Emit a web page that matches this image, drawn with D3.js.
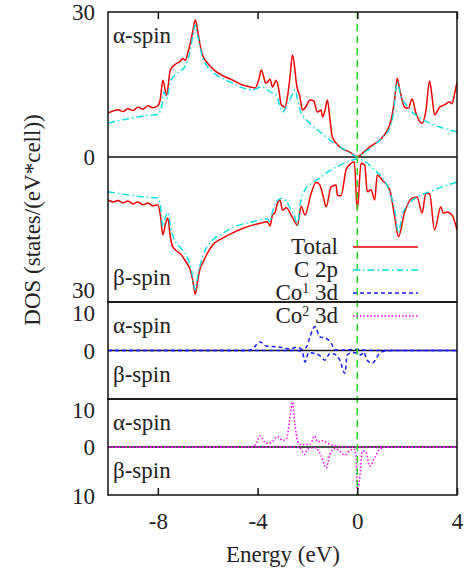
<!DOCTYPE html>
<html>
<head>
<meta charset="utf-8">
<script src="https://cdn.jsdelivr.net/npm/d3@7"></script>
<style>
   body { margin: 0; background: #fff; }
</style>
</head>
<body>
<svg id="chart" width="468" height="570" font-family="Liberation Serif"></svg>
<script>
// DOS data: [energy (eV), states/(eV*cell)]
var total_alpha = [[-10,9.1],[-9.8,9.5],[-9.6,9.8],[-9.4,9.4],[-9.2,10.0],[-9.0,9.6],[-8.8,10.3],[-8.6,9.9],[-8.4,10.6],[-8.2,10.2],[-8.0,10.6],[-7.9,12],[-7.8,15.9],[-7.65,12.8],[-7.5,18.0],[-7.3,19.2],[-7.1,19.8],[-7.0,20.4],[-6.9,20.0],[-6.8,21.5],[-6.7,23.5],[-6.6,26.0],[-6.5,28.4],[-6.4,26],[-6.3,23],[-6.2,21],[-6.05,19.7],[-5.85,18.5],[-5.65,17.6],[-5.3,16.6],[-5.0,15.9],[-4.6,14.9],[-4.3,14.5],[-4.1,14.3],[-3.95,16.0],[-3.85,18.0],[-3.75,16.5],[-3.68,15.3],[-3.6,15.5],[-3.5,16.1],[-3.4,14.5],[-3.3,15.5],[-3.25,15.9],[-3.15,14],[-3.05,10.8],[-2.9,10.3],[-2.8,12.5],[-2.7,16.5],[-2.6,21.1],[-2.5,18.0],[-2.45,15.5],[-2.3,12.4],[-2.2,9.7],[-2.05,10.5],[-1.9,11.8],[-1.75,11.6],[-1.6,9.3],[-1.45,9.7],[-1.4,8.3],[-1.3,9.5],[-1.2,11.8],[-1.1,8.0],[-1.0,4.1],[-0.7,2.1],[-0.3,1.0],[0,0.1],[0.3,1.2],[0.5,2.1],[0.9,3.5],[1.2,5.5],[1.35,7.5],[1.5,12],[1.6,16.3],[1.7,14],[1.9,10.3],[2.05,10.1],[2.2,12.0],[2.35,9.1],[2.6,7.0],[2.75,9.5],[2.9,15.7],[3.0,12.5],[3.1,8.7],[3.3,10.3],[3.5,10.8],[3.7,11.4],[3.8,11.0],[3.9,13],[4.0,15.5]];
var c2p_alpha = [[-10,7.0],[-9.6,7.5],[-9.2,7.9],[-8.8,8.3],[-8.4,8.6],[-8.0,8.8],[-7.85,10.5],[-7.75,13.5],[-7.65,12.0],[-7.5,15.5],[-7.3,17.0],[-7.1,17.8],[-6.9,18.8],[-6.7,22],[-6.6,25],[-6.5,27.3],[-6.4,25],[-6.2,20.5],[-6.05,19.0],[-5.65,17.0],[-5.0,15.3],[-4.6,14.3],[-4.2,13.9],[-3.85,14.5],[-3.5,13.5],[-3.25,12.8],[-3.1,10.5],[-3.0,9.3],[-2.8,11],[-2.6,13.0],[-2.5,13.9],[-2.4,12],[-2.3,9.7],[-1.9,7.0],[-1.5,5.2],[-1.1,3.5],[-0.7,2.1],[-0.3,0.9],[0,0],[0.3,1.0],[0.7,2.5],[1.0,4.0],[1.3,6.0],[1.45,9],[1.6,15.5],[1.75,12.5],[1.9,11.2],[2.2,9.3],[2.5,8.1],[2.9,7.0],[3.3,6.2],[3.7,5.6],[4.0,5.2]];
var total_beta = [[-10,-8.9],[-9.8,-9.3],[-9.6,-9.0],[-9.4,-9.5],[-9.2,-9.1],[-9.0,-9.7],[-8.8,-9.3],[-8.6,-9.9],[-8.4,-9.5],[-8.2,-10.1],[-8.0,-9.9],[-7.9,-12],[-7.8,-16.1],[-7.7,-14],[-7.6,-12.6],[-7.5,-16.5],[-7.4,-18.6],[-7.2,-19.6],[-7.05,-20.3],[-6.9,-21.5],[-6.7,-23.4],[-6.6,-25.5],[-6.5,-28.4],[-6.4,-25.5],[-6.3,-23],[-6.2,-21.9],[-6.0,-19.8],[-5.8,-18.2],[-5.4,-16.8],[-5.0,-15.7],[-4.6,-14.8],[-4.2,-14.1],[-3.9,-13.7],[-3.6,-13.4],[-3.5,-14.3],[-3.4,-12.0],[-3.3,-11.5],[-3.2,-9.5],[-3.1,-8.9],[-3.0,-11.0],[-2.85,-10.5],[-2.6,-12.5],[-2.4,-14.1],[-2.25,-10.2],[-2.1,-12.0],[-1.85,-7.5],[-1.65,-5.2],[-1.5,-5.8],[-1.35,-8.5],[-1.25,-10.3],[-1.05,-6.2],[-0.85,-5.8],[-0.8,-7.9],[-0.65,-8.0],[-0.45,-2.7],[-0.25,-1.3],[-0.12,-1.0],[0,-11.0],[0.15,-1.3],[0.3,-1.7],[0.4,-7.2],[0.55,-6.8],[0.7,-8.9],[0.8,-3.7],[1.0,-4.8],[1.3,-6.8],[1.5,-12.4],[1.65,-16.5],[1.9,-11.4],[2.2,-8.5],[2.4,-8.3],[2.6,-11.6],[2.75,-7.5],[2.9,-7.6],[3.1,-15.1],[3.35,-10.3],[3.45,-11.6],[3.6,-11.4],[3.8,-12.0],[4.0,-15.1]];
var c2p_beta = [[-10,-7.2],[-9.5,-7.6],[-9.0,-8.0],[-8.5,-8.3],[-8.0,-8.5],[-7.9,-10],[-7.8,-14.5],[-7.7,-12.5],[-7.6,-11.5],[-7.45,-15.5],[-7.3,-17.5],[-7.05,-19.0],[-6.8,-21],[-6.65,-23.5],[-6.5,-27.5],[-6.4,-24.5],[-6.2,-20.5],[-5.8,-17.2],[-5.4,-15.8],[-5.0,-14.6],[-4.2,-13.4],[-3.6,-12.8],[-3.5,-13.5],[-3.4,-11.3],[-3.2,-9.0],[-3.0,-8.5],[-2.7,-10.5],[-2.5,-12.5],[-2.4,-14.1],[-2.3,-10.0],[-2.1,-6.8],[-1.8,-5.3],[-1.5,-4.3],[-1.1,-2.8],[-0.7,-1.7],[-0.3,-0.8],[0,-0.4],[0.3,-0.9],[0.7,-2.7],[1.0,-4.3],[1.3,-7.2],[1.5,-11],[1.65,-15.7],[1.8,-12.0],[2.1,-9.5],[2.5,-8.0],[2.9,-7.2],[3.5,-6.0],[4.0,-5.2]];
var co1_alpha = [[-10,0],[-4.4,0],[-4.2,0.5],[-3.9,2.3],[-3.65,1.2],[-3.3,1.0],[-3.1,0.9],[-2.7,0.4],[-2.4,0.9],[-2.2,0.3],[-2.05,0.8],[-1.9,3.6],[-1.7,6.4],[-1.5,3.6],[-1.3,3.4],[-1.05,2.0],[-0.9,0.2],[-0.6,0.1],[0,0.3],[0.3,0.1],[1.0,0],[4,0]];
var co1_beta = [[-10,0],[-2.4,0],[-2.2,-0.5],[-2.1,-3.1],[-1.95,-0.6],[-1.7,-0.8],[-1.5,-1.4],[-1.3,-2.6],[-1.1,-0.8],[-0.9,-1.0],[-0.7,-2.6],[-0.5,-6.1],[-0.4,-1.2],[-0.2,-0.5],[0,-0.7],[0.15,-1.2],[0.25,-0.4],[0.4,-2.6],[0.6,-3.4],[0.9,-0.7],[1.1,-0.2],[1.5,0],[4,0]];
var co2_alpha = [[-10,0],[-4.2,0],[-4.05,1.0],[-3.9,3.0],[-3.65,1.0],[-3.45,1.2],[-3.2,2.8],[-3.0,1.8],[-2.85,2.1],[-2.7,7.9],[-2.6,12.2],[-2.5,6.2],[-2.4,1.7],[-2.25,0.6],[-1.9,0.7],[-1.7,3.0],[-1.6,1.4],[-1.4,1.7],[-1.1,0.7],[-0.8,0.2],[-0.5,0],[4,0]];
var co2_beta = [[-10,0],[-2.35,0],[-2.1,-2.0],[-2.0,-0.6],[-1.7,-0.2],[-1.45,-2.3],[-1.25,-5.7],[-1.1,-2.0],[-0.9,-0.4],[-0.7,-1.1],[-0.5,-2.2],[-0.3,-0.9],[-0.12,-0.6],[-0.05,-2.4],[0,-11.5],[0.1,-8.3],[0.2,-1.1],[0.35,-1.5],[0.5,-5.2],[0.7,-2.9],[0.9,-0.6],[1.1,-0.1],[1.5,0],[4,0]];

var x_ticks = [-8, -4, 0, 4];
var y_ticks_1 = [30, 0, -30];
var y_ticks_2 = [10, 0];
var y_ticks_3 = [10, 0, -10];
var legend_names = ["Total", "C 2p", "Co1 3d", "Co2 3d"];

var FONT = "Liberation Serif";
var svg = d3.select("#chart");
var x = d3.scaleLinear().domain([-10, 4]).range([108, 457]);

// three stacked panels, each with its own y scale
var panels = [
   { id: "p1", top: 12, bottom: 302, y: d3.scaleLinear().domain([-30, 30]).range([302, 12]), ticks: y_ticks_1, shift: [0, 0, -12] },
   { id: "p2", top: 302, bottom: 399, y: d3.scaleLinear().domain([-13, 13]).range([399, 302]), ticks: y_ticks_2, shift: [0, 0] },
   { id: "p3", top: 399, bottom: 495, y: d3.scaleLinear().domain([-13, 13]).range([495, 399]), ticks: y_ticks_3, shift: [0, 0, 12] }
];

var styles = {
   total: { stroke: "#f00000", width: 1.5, dash: null },
   c2p:   { stroke: "#00e0e0", width: 1.4, dash: "7,3,1.5,3" },
   co1:   { stroke: "#1a1aff", width: 1.5, dash: "4,3" },
   co2:   { stroke: "#ff00ff", width: 1.5, dash: "1.5,2" }
};

function add_text(px, py, str) {
   return svg.append("text").attr("x", px).attr("y", py)
      .attr("font-family", FONT).attr("font-size", 23).attr("fill", "#222")
      .text(str);
}

var defs = svg.append("defs");
panels.forEach(function(p) {
   defs.append("clipPath").attr("id", "clip_" + p.id)
      .append("rect").attr("x", x.range()[0]).attr("y", p.top)
      .attr("width", x.range()[1] - x.range()[0]).attr("height", p.bottom - p.top);
});

function draw_series(p, data, st) {
   var line = d3.line().x(function(d) { return x(d[0]); }).y(function(d) { return p.y(d[1]); })
      .curve(d3.curveMonotoneX);
   svg.append("path").datum(data)
      .attr("clip-path", "url(#clip_" + p.id + ")")
      .attr("d", line)
      .attr("fill", "none")
      .attr("stroke", st.stroke)
      .attr("stroke-width", st.width)
      .attr("stroke-dasharray", st.dash)
      .attr("stroke-linejoin", "round");
}

// zero lines
panels.forEach(function(p) {
   svg.append("line")
      .attr("x1", x.range()[0]).attr("x2", x.range()[1])
      .attr("y1", p.y(0)).attr("y2", p.y(0))
      .attr("stroke", "#111").attr("stroke-width", 1.5);
});

draw_series(panels[0], total_alpha, styles.total);
draw_series(panels[0], c2p_alpha, styles.c2p);
draw_series(panels[0], total_beta, styles.total);
draw_series(panels[0], c2p_beta, styles.c2p);
draw_series(panels[1], co1_alpha, styles.co1);
draw_series(panels[1], co1_beta, styles.co1);
draw_series(panels[2], co2_alpha, styles.co2);
draw_series(panels[2], co2_beta, styles.co2);

// Fermi level
svg.append("line")
   .attr("x1", x(0)).attr("x2", x(0))
   .attr("y1", panels[0].top).attr("y2", panels[2].bottom)
   .attr("stroke", "#22dd22").attr("stroke-width", 1.5)
   .attr("stroke-dasharray", "7,5");

// frames
panels.forEach(function(p) {
   svg.append("rect")
      .attr("x", x.range()[0]).attr("y", p.top)
      .attr("width", x.range()[1] - x.range()[0]).attr("height", p.bottom - p.top)
      .attr("fill", "none").attr("stroke", "#111").attr("stroke-width", 1.5);
});

// x ticks (top of first panel, bottom of last); plain hyphen for negatives
svg.append("g").attr("transform", "translate(0," + panels[2].bottom + ")")
   .call(d3.axisBottom(x).tickValues(x_ticks).tickSize(-7).tickPadding(18).tickFormat(function(d) { return String(d); }))
   .call(function(g) { g.select(".domain").remove(); })
   .attr("font-family", FONT).attr("font-size", 23);
svg.append("g").attr("transform", "translate(0," + panels[0].top + ")")
   .call(d3.axisTop(x).tickValues(x_ticks).tickSize(-7).tickFormat(""))
   .call(function(g) { g.select(".domain").remove(); });
svg.selectAll(".tick line").attr("stroke", "#111").attr("stroke-width", 1.5);
svg.selectAll(".tick text").attr("fill", "#222");

// y tick labels (absolute values) and spin labels
panels.forEach(function(p) {
   p.ticks.forEach(function(v, i) {
      add_text(95, p.y(v) + p.shift[i], Math.abs(v))
         .attr("dy", "0.35em")
         .attr("text-anchor", "end");
   });
   add_text(113, p.top + 31, "\u03b1-spin");
   add_text(113, p.bottom - 17, "\u03b2-spin");
});

// axis titles
add_text(283, 562, "Energy (eV)").attr("text-anchor", "middle");
add_text(0, 0, "DOS (states/(eV*cell))")
   .attr("transform", "translate(40,220) rotate(-90)")
   .attr("text-anchor", "middle");

// legend
var legend_styles = [styles.total, styles.c2p, styles.co1, styles.co2];
legend_names.forEach(function(name, i) {
   var ly = 247 + i * 23;
   var t = add_text(338, ly + 7, null).attr("text-anchor", "end");
   if (name.indexOf("Co") === 0) {
      t.append("tspan").text("Co");
      t.append("tspan").attr("dy", -7).attr("font-size", 14).text(name.charAt(2));
      t.append("tspan").attr("dy", 7).text(" 3d");
   } else {
      t.text(name);
   }
   svg.append("line")
      .attr("x1", 353).attr("x2", 418).attr("y1", ly).attr("y2", ly)
      .attr("stroke", legend_styles[i].stroke)
      .attr("stroke-width", legend_styles[i].width)
      .attr("stroke-dasharray", legend_styles[i].dash);
});
</script>
</body>
</html>
